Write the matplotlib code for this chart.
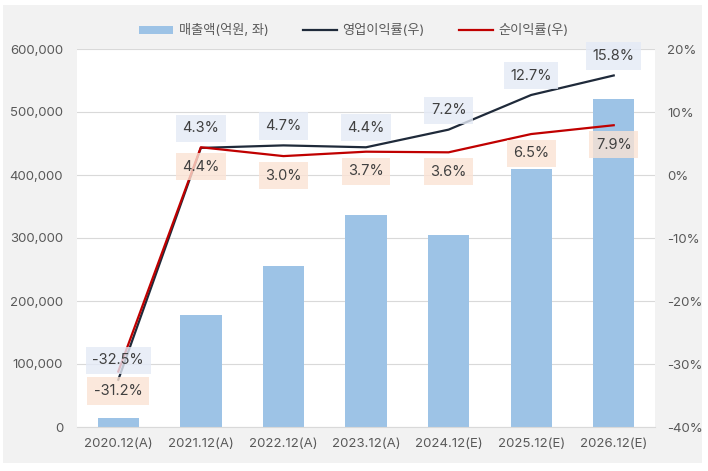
import matplotlib.pyplot as plt
import matplotlib.patches as mpatches
from matplotlib.ticker import FuncFormatter

plt.rcParams['font.family'] = ['Inter', 'Noto Sans CJK KR', 'DejaVu Sans']

# 데이터
years = ['2020.12(A)', '2021.12(A)', '2022.12(A)', '2023.12(A)',
         '2024.12(E)', '2025.12(E)', '2026.12(E)']
sales = [14000, 178000, 255000, 336000, 305000, 410000, 521000]
op_margin = [-32.5, 4.3, 4.7, 4.4, 7.2, 12.7, 15.8]
net_margin = [-31.2, 4.4, 3.0, 3.7, 3.6, 6.5, 7.9]

bar_c = '#9dc3e6'
op_c = '#1f2a3a'
net_c = '#c00000'
txt_c = '#595959'

fig = plt.figure(figsize=(7.08, 4.71), dpi=100, facecolor='white')
bg = mpatches.Rectangle((3/708, 1-463/471), 699/708, 458/471,
                        transform=fig.transFigure,
                        facecolor='#f2f2f2', edgecolor='none', zorder=-10)
fig.patches.append(bg)
ax = fig.add_axes([77/708, 1-427/471, 578/708, 378/471])
ax.set_facecolor('white')

x = list(range(len(years)))
ax.bar(x, sales, width=0.5, color=bar_c, zorder=2, label='매출액(억원, 좌)')
ax.set_ylim(0, 600000)
ax.set_xlim(-0.5, len(years)-0.5)
ax.set_yticks(range(0, 600001, 100000))
ax.yaxis.set_major_formatter(FuncFormatter(lambda v, p: f'{int(v):,}'))
ax.grid(axis='y', color='#d9d9d9', linewidth=0.8, zorder=0)
ax.set_axisbelow(True)
ax.set_xticks(x)
ax.set_xticklabels(years)
for s in ax.spines.values():
    s.set_visible(False)
ax.spines['bottom'].set_visible(True)
ax.spines['bottom'].set_color('#d9d9d9')
ax.tick_params(length=0, colors=txt_c, labelsize=9.5)
ax.tick_params(axis='y', pad=10)
ax.tick_params(axis='x', pad=8)

ax2 = ax.twinx()
ax2.set_ylim(-40, 20)
ax2.set_yticks(range(-40, 21, 10))
ax2.yaxis.set_major_formatter(FuncFormatter(lambda v, p: f'{int(v)}%'))
for s in ax2.spines.values():
    s.set_visible(False)
ax2.tick_params(length=0, colors=txt_c, labelsize=9.5, pad=9)

ax2.plot(x, op_margin, color=op_c, linewidth=1.6, zorder=3, label='영업이익률(우)')
ax2.plot(x, net_margin, color=net_c, linewidth=1.6, zorder=3, label='순이익률(우)')

for i in x:
    ax2.annotate(f'{op_margin[i]:.1f}%', (i, op_margin[i]), xytext=(0, 14),
                 textcoords='offset points', ha='center', va='center',
                 fontsize=10.5, color='#404040', zorder=4,
                 bbox=dict(boxstyle='square,pad=0.45', fc='#e4eaf6', ec='none', alpha=0.8))
    ax2.annotate(f'{net_margin[i]:.1f}%', (i, net_margin[i]), xytext=(0, -14),
                 textcoords='offset points', ha='center', va='center',
                 fontsize=10.5, color='#404040', zorder=4,
                 bbox=dict(boxstyle='square,pad=0.45', fc='#fbe3d4', ec='none', alpha=0.8))

h1, l1 = ax.get_legend_handles_labels()
h2, l2 = ax2.get_legend_handles_labels()
fig.legend(h1 + h2, l1 + l2, loc='center', bbox_to_anchor=(0.5, 1-31/471),
           ncol=3, frameon=False, fontsize=9.5, labelcolor=txt_c,
           handlelength=2.6, handleheight=0.5, handletextpad=0.4, columnspacing=2.6)

fig.savefig('out.png', dpi=100, facecolor=fig.get_facecolor())
